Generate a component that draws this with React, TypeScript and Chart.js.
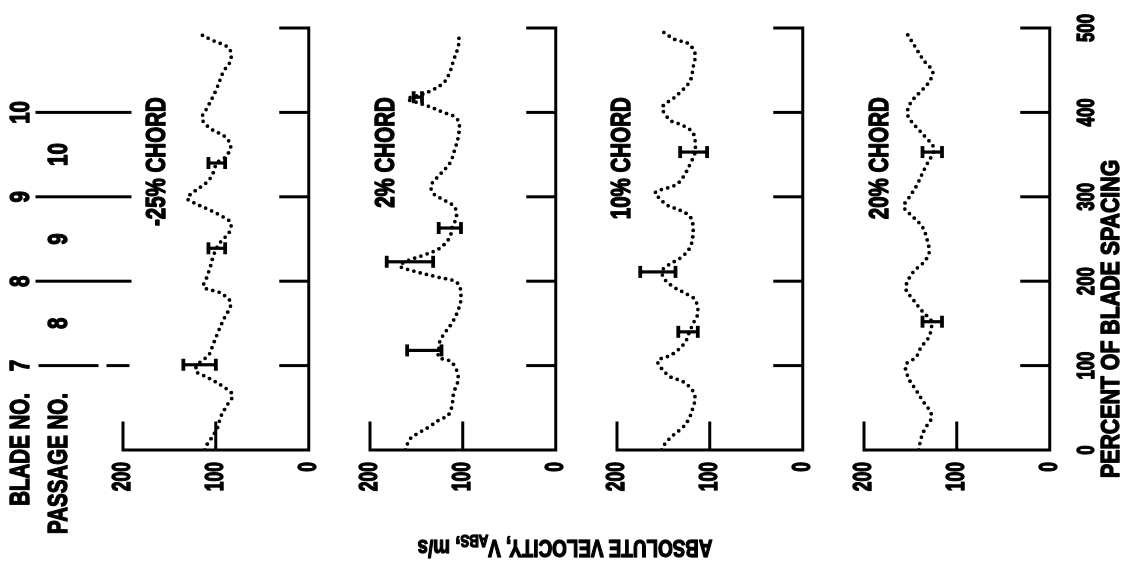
import React, { useEffect, useRef } from "react";
import { Chart, registerables } from "chart.js";

Chart.register(...registerables);

// ---------- data ----------
const percentTicks = [0, 100, 200, 300, 400, 500];
const velocityTicks = [0, 100, 200];
const panelLabels = ["-25% CHORD", "2% CHORD", "10% CHORD", "20% CHORD"];
const bladeNumbers = ["7", "8", "9", "10"];
const bladePercent = [100, 200, 300, 400];
const passageNumbers = ["8", "9", "10"];
const passagePercent = [150, 250, 350];

// -25% chord
const pctM25 = [0, 4, 12, 27, 39, 53, 65, 75, 86, 94, 104, 112, 122, 139, 154, 174, 186, 193, 204, 217, 229, 240, 249, 257, 269, 276, 284, 292, 298, 304, 318, 328, 340, 347, 359, 371, 381, 393, 406, 426, 448, 462, 476, 486, 494];
const velM25 = [112, 111, 106, 98, 95, 88, 82, 92, 109, 122, 117, 108, 104, 98, 92, 84, 95, 113, 110, 106, 103, 99, 93, 86, 84, 92, 106, 122, 131, 126, 109, 103, 99, 90, 84, 90, 106, 115, 109, 100, 92, 84, 86, 105, 119];
const errPctM25 = [101, 239, 340];
const errLoM25 = [100, 90, 90];
const errHiM25 = [135, 108, 108];

// 2% chord
const pct2 = [0, 13, 20, 27, 36, 41, 51, 67, 86, 104, 110, 118, 128, 138, 150, 166, 181, 198, 205, 212, 218, 224, 231, 239, 252, 263, 276, 288, 296, 304, 314, 326, 340, 355, 371, 387, 395, 400, 406, 412, 416, 421, 427, 436, 448, 462, 478, 494];
const vel2 = [162, 157, 148, 137, 125, 116, 112, 110, 105, 112, 126, 126, 125, 120, 112, 105, 102, 106, 128, 153, 168, 160, 142, 125, 114, 112, 107, 109, 120, 132, 134, 125, 114, 109, 105, 104, 109, 121, 134, 150, 160, 145, 132, 120, 114, 110, 105, 104];
const errPct2 = [118, 223, 263, 418];
const errLo2 = [123, 132, 102, 144];
const errHi2 = [160, 182, 126, 153];

// 10% chord
const pct10 = [0, 8, 18, 26, 36, 51, 62, 71, 81, 87, 98, 106, 113, 127, 140, 150, 162, 178, 186, 193, 204, 213, 219, 229, 241, 261, 276, 284, 290, 297, 305, 314, 323, 344, 353, 367, 377, 385, 391, 406, 417, 427, 438, 454, 470, 482, 486, 495];
const vel10 = [152, 148, 139, 130, 123, 118, 116, 119, 129, 143, 153, 156, 141, 127, 122, 118, 113, 116, 127, 139, 150, 151, 145, 130, 121, 118, 121, 132, 146, 153, 159, 137, 129, 119, 116, 116, 119, 130, 143, 151, 139, 129, 121, 118, 116, 124, 137, 150];
const errPct10 = [140, 211, 353];
const errLo10 = [113, 137, 103];
const errHi10 = [134, 175, 132];

// 20% chord
const pct20 = [0, 12, 26, 36, 44, 57, 71, 85, 101, 110, 121, 134, 143, 152, 164, 178, 192, 211, 221, 233, 249, 264, 276, 288, 300, 312, 335, 353, 359, 371, 383, 397, 411, 427, 436, 448, 462, 476, 492];
const vel20 = [141, 139, 134, 128, 128, 136, 144, 152, 155, 144, 139, 130, 128, 127, 137, 147, 155, 147, 137, 130, 132, 137, 147, 157, 151, 144, 134, 125, 125, 134, 144, 153, 150, 137, 130, 126, 136, 144, 153];
const errPct20 = [152, 353];
const errLo20 = [116, 116];
const errHi20 = [137, 137];

// ---------- layout / style ----------
const FONT = '"Liberation Sans", Arial, sans-serif';
const W = 570;
const H = 1122;
const chordLabelPct = 418;
const chordLabelVel = [163, 182, 194, 182];

const panels = [
  { id: "y1", label: panelLabels[0], pct: pctM25, vel: velM25, ePct: errPctM25, eLo: errLoM25, eHi: errHiM25 },
  { id: "y2", label: panelLabels[1], pct: pct2, vel: vel2, ePct: errPct2, eLo: errLo2, eHi: errHi2 },
  { id: "y3", label: panelLabels[2], pct: pct10, vel: vel10, ePct: errPct10, eLo: errLo10, eHi: errHi10 },
  { id: "y4", label: panelLabels[3], pct: pct20, vel: vel20, ePct: errPct20, eLo: errLo20, eHi: errHi20 },
];

// condensed heavy text (the original uses a narrow bold typeface)
function condText(
  ctx: CanvasRenderingContext2D,
  text: string,
  x: number,
  y: number,
  size: number,
  align: CanvasTextAlign,
  sx = 0.76
) {
  ctx.save();
  ctx.translate(x, y);
  ctx.scale(sx, 1);
  ctx.font = `bold ${size}px ${FONT}`;
  ctx.textAlign = align;
  ctx.textBaseline = "middle";
  ctx.fillStyle = "#000";
  ctx.strokeStyle = "#000";
  ctx.lineWidth = 1.4;
  ctx.lineJoin = "round";
  ctx.fillText(text, 0, 0);
  ctx.strokeText(text, 0, 0);
  ctx.restore();
}

const decor = {
  id: "decor",
  afterDraw(chart: any) {
    const ctx = chart.ctx as CanvasRenderingContext2D;
    const xs = chart.scales.x;
    const x0 = xs.getPixelForValue(0);
    const x500 = xs.getPixelForValue(500);
    ctx.save();
    ctx.strokeStyle = "#000";
    ctx.fillStyle = "#000";
    ctx.lineCap = "square";
    panels.forEach((p, i) => {
      const ys = chart.scales[p.id];
      const yb = ys.getPixelForValue(0);
      ctx.lineWidth = 3;
      ctx.beginPath();
      ctx.moveTo(x0, yb);
      ctx.lineTo(x0, ys.getPixelForValue(200));
      ctx.moveTo(x0, yb);
      ctx.lineTo(x500, yb);
      ys.ticks.forEach((t: any) => {
        if (t.value === 0) return;
        const y = ys.getPixelForValue(t.value);
        ctx.moveTo(x0, y);
        ctx.lineTo(x0 + 27, y);
      });
      xs.ticks.forEach((t: any) => {
        if (t.value === 0) return;
        const x = xs.getPixelForValue(t.value);
        ctx.moveTo(x, yb);
        ctx.lineTo(x, yb - 28);
      });
      ctx.stroke();
      // velocity tick labels
      ys.ticks.forEach((t: any) => {
        condText(ctx, String(t.value), x0 - 12, ys.getPixelForValue(t.value), 25, "right", 0.7);
      });
      // panel label
      condText(ctx, p.label, xs.getPixelForValue(chordLabelPct), ys.getPixelForValue(chordLabelVel[i]), 27, "right");
    });

    // percent tick labels
    xs.ticks.forEach((t: any) => {
      condText(ctx, String(t.value), xs.getPixelForValue(t.value), 1087, 24, "center", 0.7);
    });

    // blade / passage header
    bladeNumbers.forEach((b, k) => {
      const x = xs.getPixelForValue(bladePercent[k]);
      condText(ctx, b, x, 22, 27, "center");
      ctx.lineWidth = 3;
      ctx.beginPath();
      if (k === 0) {
        ctx.moveTo(x, 40);
        ctx.lineTo(x, 97);
        ctx.moveTo(x, 108);
        ctx.lineTo(x, 128);
      } else {
        ctx.moveTo(x, 37);
        ctx.lineTo(x, 130);
      }
      ctx.stroke();
    });
    passageNumbers.forEach((b, k) => {
      condText(ctx, b, xs.getPixelForValue(passagePercent[k]), 60, 27, "center");
    });
    condText(ctx, "BLADE NO.", 177, 22, 27, "right");
    condText(ctx, "PASSAGE NO.", 177, 60, 27, "right");

    // x axis title
    condText(ctx, "PERCENT OF BLADE SPACING", 92, 1112, 26, "left", 0.82);

    // y axis title with subscript
    ctx.translate(22, 565);
    ctx.rotate(-Math.PI / 2);
    ctx.scale(0.82, 1);
    const parts: [string, number, number][] = [
      ["ABSOLUTE VELOCITY, V", 23, 0],
      ["ABS", 16, 5],
      [", m/s", 23, 0],
    ];
    let total = 0;
    parts.forEach(([t, s]) => {
      ctx.font = `bold ${s}px ${FONT}`;
      total += ctx.measureText(t).width;
    });
    let cx = -total / 2;
    ctx.textAlign = "left";
    ctx.textBaseline = "alphabetic";
    ctx.lineWidth = 1.3;
    ctx.lineJoin = "round";
    parts.forEach(([t, s, dy]) => {
      ctx.font = `bold ${s}px ${FONT}`;
      ctx.fillText(t, cx, 8 + dy);
      ctx.strokeText(t, cx, 8 + dy);
      cx += ctx.measureText(t).width;
    });
    ctx.restore();
  },
};

export default function App() {
  const ref = useRef<HTMLCanvasElement>(null);

  useEffect(() => {
    if (!ref.current) return;
    const datasets: any[] = [];
    panels.forEach((p) => {
      datasets.push({
        type: "line",
        data: p.pct.map((x, k) => ({ x, y: p.vel[k] })),
        yAxisID: p.id,
        borderColor: "#000",
        borderWidth: 3.8,
        borderDash: [0, 6.5],
        borderCapStyle: "round",
        pointRadius: 0,
        tension: 0.35,
        fill: false,
      });
      p.ePct.forEach((x, k) => {
        datasets.push({
          type: "line",
          data: [
            { x, y: p.eLo[k] },
            { x, y: p.eHi[k] },
          ],
          yAxisID: p.id,
          borderColor: "#000",
          borderWidth: 3.2,
          pointStyle: "line",
          pointRadius: 6,
          pointBorderWidth: 3.8,
          pointBorderColor: "#000",
          pointBackgroundColor: "#000",
          tension: 0,
          fill: false,
        });
      });
    });

    const yScale = (i: number) => ({
      type: "linear" as const,
      stack: "panels",
      stackWeight: 1,
      weight: 4 - i,
      position: "left" as const,
      min: -24,
      max: 242,
      afterBuildTicks: (s: any) => {
        s.ticks = velocityTicks.map((v) => ({ value: v }));
      },
      afterFit: (s: any) => {
        s.width = 120;
      },
      grid: { display: false },
      border: { display: false },
      ticks: { display: false },
    });

    const chart = new Chart(ref.current, {
      type: "line",
      data: { datasets },
      options: {
        responsive: false,
        animation: false,
        events: [],
        layout: { padding: { top: 84, right: 28, left: 0, bottom: 0 } },
        plugins: { legend: { display: false }, tooltip: { enabled: false } },
        scales: {
          x: {
            type: "linear",
            min: 0,
            max: 500,
            position: "bottom",
            afterBuildTicks: (s: any) => {
              s.ticks = percentTicks.map((v) => ({ value: v }));
            },
            afterFit: (s: any) => {
              s.height = 50;
            },
            grid: { display: false },
            border: { display: false },
            ticks: { display: false },
          },
          y1: yScale(0),
          y2: yScale(1),
          y3: yScale(2),
          y4: yScale(3),
        } as any,
      },
      plugins: [decor],
    });
    return () => chart.destroy();
  }, []);

  return (
    <div
      style={{
        position: "fixed",
        left: 0,
        top: 0,
        width: H,
        height: W,
        overflow: "hidden",
        background: "#fff",
      }}
    >
      <div
        style={{
          position: "absolute",
          left: 0,
          top: 0,
          width: W,
          height: H,
          transformOrigin: "0 0",
          transform: `translateY(${W}px) rotate(-90deg)`,
        }}
      >
        <canvas ref={ref} width={W} height={H} style={{ display: "block", width: W, height: H }} />
      </div>
    </div>
  );
}
